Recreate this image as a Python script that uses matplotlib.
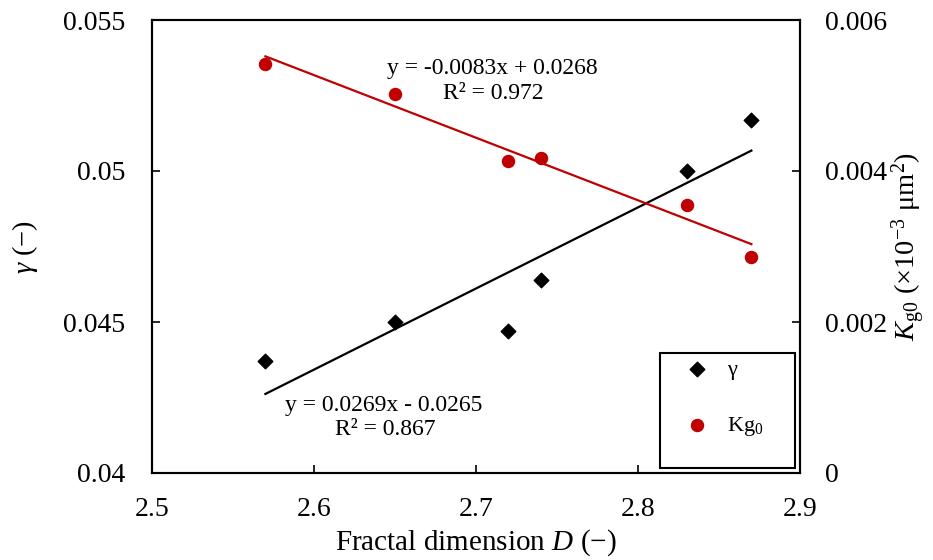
import numpy as np
import matplotlib
matplotlib.use("Agg")
import matplotlib.pyplot as plt
from matplotlib.patches import Rectangle

plt.rcParams['font.family'] = ['Liberation Serif', 'DejaVu Serif']
plt.rcParams['mathtext.fontset'] = 'custom'
plt.rcParams['mathtext.rm'] = 'Liberation Serif'
plt.rcParams['mathtext.it'] = 'Liberation Serif:italic'

D = [2.57, 2.65, 2.72, 2.74, 2.83, 2.87]
gamma = [0.04371, 0.04500, 0.04470, 0.04639, 0.05000, 0.05169]
kg0 = [0.005417, 0.005020, 0.004132, 0.004172, 0.003550, 0.002861]

fig = plt.figure(figsize=(9.33, 5.6), dpi=100)
L, R, T, B = 152, 800, 20, 473
ax = fig.add_axes([L/933, 1-B/560, (R-L)/933, (B-T)/560])
ax2 = ax.twinx()

black = '#000000'
red = '#C00000'

# trend lines
Da = np.array(D)
pg = np.polyfit(Da, gamma, 1)
pk = np.polyfit(Da, kg0, 1)
xs = np.array([min(D), max(D)])
ax.plot(xs, np.polyval(pg, xs), color=black, lw=1.6, zorder=2)
ax2.plot(xs, np.polyval(pk, xs), color=red, lw=1.6, zorder=2)

h1 = ax.scatter(D, gamma, marker='D', s=55, color=black, zorder=3, label='γ')
h2 = ax2.scatter(D, kg0, marker='o', s=75, color=red, zorder=3, label='Kg$_\\mathregular{0}$')

ax.set_xlim(2.5, 2.9)
ax.set_ylim(0.04, 0.055)
ax2.set_ylim(0, 0.006)
ax.set_xticks([2.5, 2.6, 2.7, 2.8, 2.9])
ax.set_xticklabels(['2.5', '2.6', '2.7', '2.8', '2.9'])
ax.set_yticks([0.04, 0.045, 0.05, 0.055])
ax.set_yticklabels(['0.04', '0.045', '0.05', '0.055'])
ax2.set_yticks([0, 0.002, 0.004, 0.006])
ax2.set_yticklabels(['0', '0.002', '0.004', '0.006'])

for a in (ax, ax2):
    for s in a.spines.values():
        s.set_linewidth(1.5)
    a.tick_params(direction='in', labelsize=20, width=1.2, length=6)
ax.tick_params(axis='y', pad=19)
ax2.tick_params(axis='y', pad=18)
ax.tick_params(axis='x', pad=17)

ax.set_xlabel('Fractal dimension $\\mathit{D}$ (−)', fontsize=21, labelpad=4)
ax.set_ylabel('$\\mathit{γ}$ (−)', fontsize=20.5, labelpad=17)
ax2.set_ylabel('$\\mathit{K}_\\mathregular{g0}$ (×10$^\\mathregular{-3}$ μm$^\\mathregular{2}$)',
               fontsize=20.5, labelpad=2)

ax.text(2.7099, 0.05341, 'y = -0.0083x + 0.0268', fontsize=17, ha='center', va='center')
ax.text(2.7105, 0.05258, 'R² = 0.972', fontsize=17, ha='center', va='center')
ax.text(2.6432, 0.04225, 'y = 0.0269x - 0.0265', fontsize=17, ha='center', va='center')
ax.text(2.6438, 0.041424, 'R² = 0.867', fontsize=17, ha='center', va='center')

# legend frame drawn as a box, entries placed inside
ax2.add_patch(Rectangle((0.784, 0.011), 0.9923 - 0.784, 0.265 - 0.011,
                        transform=ax2.transAxes, facecolor='white', edgecolor='black',
                        lw=1.5, zorder=4))
leg = ax2.legend(handles=[h1, h2], loc='upper left', bbox_to_anchor=(0.8117, 0.2517),
                 fontsize=16, frameon=False, borderpad=0, labelspacing=1.58,
                 handlelength=1.7, handletextpad=0.5, borderaxespad=0)
leg.set_zorder(5)

fig.savefig('out.png', dpi=100)
